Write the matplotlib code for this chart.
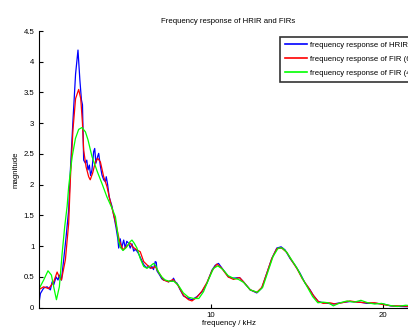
import numpy as np
import matplotlib
matplotlib.use('Agg')
from matplotlib import pyplot as plt

# 주파수 (kHz) / 크기 - 그림에서 읽은 값
freq_hrir = [0.0, 0.11, 0.3, 0.5, 0.69, 0.79, 0.88, 1.02, 1.13, 1.21, 1.33, 1.46, 1.6, 1.75, 1.85,
             2.0, 2.15, 2.29, 2.4, 2.49, 2.55, 2.62, 2.72, 2.8, 2.87, 2.95, 3.02, 3.1, 3.2, 3.26,
             3.33, 3.43, 3.49, 3.59, 3.68, 3.78, 3.88, 3.93, 4.01, 4.1, 4.26, 4.4, 4.5, 4.6, 4.65,
             4.74, 4.82, 4.94, 5.03, 5.12, 5.22, 5.32, 5.42, 5.52, 5.61, 5.71, 5.8, 5.9, 6.0, 6.1,
             6.19, 6.29, 6.39, 6.48, 6.58, 6.67, 6.77, 6.83, 6.87, 7.03, 7.15, 7.25, 7.4, 7.54, 7.65,
             7.74, 7.83, 7.93, 8.03, 8.22, 8.41, 8.7, 8.9, 9.19, 9.48, 9.77, 10.06, 10.25, 10.44,
             10.73, 11.02, 11.31, 11.66, 11.89, 12.28, 12.66, 12.95, 13.24, 13.53, 13.82, 14.07,
             14.3, 14.59, 14.88, 15.17, 15.46, 15.75, 15.94, 16.23, 16.52, 16.81, 17.1, 17.49,
             18.07, 18.65, 19.04, 19.6, 20.0, 20.4, 21.0, 22.05]
mag_hrir = [0.02, 0.23, 0.32, 0.34, 0.29, 0.42, 0.37, 0.5, 0.45, 0.53, 0.45, 0.78, 1.15, 1.59, 2.24,
            3.05, 3.8, 4.19, 3.7, 3.38, 3.3, 2.4, 2.35, 2.4, 2.24, 2.32, 2.15, 2.24, 2.54, 2.59,
            2.35, 2.46, 2.51, 2.3, 2.16, 2.08, 2.05, 2.13, 2.0, 1.8, 1.65, 1.45, 1.3, 1.12, 0.97,
            1.12, 0.97, 1.1, 0.97, 1.08, 1.05, 0.97, 1.04, 0.92, 0.95, 0.92, 0.88, 0.82, 0.76, 0.7,
            0.67, 0.65, 0.68, 0.64, 0.67, 0.62, 0.75, 0.74, 0.6, 0.53, 0.47, 0.45, 0.44, 0.42, 0.44,
            0.43, 0.48, 0.42, 0.4, 0.29, 0.19, 0.15, 0.13, 0.18, 0.26, 0.4, 0.61, 0.69, 0.72,
            0.61, 0.5, 0.48, 0.49, 0.42, 0.29, 0.24, 0.32, 0.56, 0.8, 0.97, 0.99,
            0.94, 0.8, 0.69, 0.56, 0.4, 0.29, 0.2, 0.1, 0.08, 0.07, 0.06, 0.08,
            0.1, 0.09, 0.07, 0.07, 0.06, 0.03, 0.02, 0.01]

freq_fir68 = [0.0, 0.3, 0.59, 0.88, 1.08, 1.2, 1.33, 1.56, 1.75, 1.85, 2.0, 2.15, 2.33, 2.45, 2.55,
              2.62, 2.76, 2.91, 3.0, 3.14, 3.3, 3.43, 3.59, 3.78, 3.97, 4.17, 4.46, 4.7, 4.9, 5.1,
              5.32, 5.5, 5.71, 5.9, 6.1, 6.39, 6.58, 6.77, 7.0, 7.25, 7.54, 7.8, 8.1, 8.41, 8.7,
              8.9, 9.19, 9.48, 9.77, 10.06, 10.35, 10.6, 11.0, 11.31, 11.66, 11.89, 12.28, 12.66,
              12.95, 13.24, 13.53, 13.82, 14.1, 14.4, 14.7, 15.0, 15.3, 15.6, 15.94, 16.23, 16.52,
              16.9, 17.2, 17.6, 18.07, 18.5, 19.0, 19.5, 20.0, 20.5, 21.0, 22.05]
mag_fir68 = [0.29, 0.34, 0.31, 0.42, 0.58, 0.5, 0.45, 0.78, 1.37, 2.1, 2.9, 3.4, 3.55, 3.4, 3.0,
             2.56, 2.29, 2.13, 2.08, 2.19, 2.37, 2.43, 2.37, 2.13, 1.97, 1.72, 1.4, 1.08, 0.94, 1.0,
             1.05, 0.98, 0.94, 0.91, 0.75, 0.67, 0.64, 0.67, 0.56, 0.45, 0.42, 0.46, 0.36, 0.2, 0.13,
             0.11, 0.17, 0.27, 0.41, 0.6, 0.71, 0.65, 0.5, 0.46, 0.49, 0.42, 0.29, 0.25,
             0.33, 0.56, 0.8, 0.96, 0.97, 0.9, 0.76, 0.63, 0.47, 0.35, 0.2, 0.1, 0.07,
             0.08, 0.06, 0.08, 0.11, 0.09, 0.08, 0.08, 0.05, 0.03, 0.03, 0.01]

freq_fir47 = [0.0, 0.3, 0.55, 0.75, 0.88, 1.04, 1.21, 1.37, 1.52, 1.66, 1.75, 1.95, 2.14, 2.33, 2.52,
              2.72, 2.87, 3.1, 3.4, 3.68, 3.97, 4.26, 4.46, 4.55, 4.65, 4.75, 4.9, 5.1, 5.3, 5.42,
              5.55, 5.71, 5.9, 6.1, 6.29, 6.5, 6.67, 6.8, 6.96, 7.15, 7.35, 7.6, 7.85, 8.1, 8.4,
              8.7, 9.0, 9.3, 9.57, 9.85, 10.15, 10.4, 10.7, 11.0, 11.3, 11.6, 11.9, 12.28, 12.7,
              13.0, 13.3, 13.6, 13.9, 14.15, 14.4, 14.7, 15.0, 15.3, 15.6, 15.9, 16.2, 16.5, 16.81,
              17.1, 17.5, 17.9, 18.3, 18.7, 19.1, 19.5, 19.9, 20.3, 20.8, 21.3, 22.05]
mag_fir47 = [0.29, 0.45, 0.6, 0.53, 0.34, 0.13, 0.34, 0.88, 1.32, 1.65, 1.97, 2.45, 2.75, 2.9, 2.93,
             2.86, 2.73, 2.46, 2.22, 2.02, 1.8, 1.62, 1.48, 1.3, 1.08, 0.98, 0.93, 0.98, 1.07, 1.1,
             1.05, 0.97, 0.8, 0.67, 0.64, 0.68, 0.72, 0.68, 0.58, 0.5, 0.45, 0.43, 0.43, 0.37, 0.24,
             0.17, 0.15, 0.15, 0.26, 0.45, 0.64, 0.68, 0.62, 0.52, 0.48, 0.46, 0.41, 0.29, 0.25,
             0.33, 0.58, 0.83, 0.97, 0.97, 0.9, 0.77, 0.64, 0.48, 0.33, 0.18, 0.08, 0.09, 0.08,
             0.03, 0.08, 0.11, 0.09, 0.12, 0.08, 0.06, 0.07, 0.04, 0.02, 0.04, 0.02]

labels = ['frequency response of HRIR',
          'frequency response of FIR (68 taps)',
          'frequency response of FIR (47 taps)']
y_ticks = [0, 0.5, 1, 1.5, 2, 2.5, 3, 3.5, 4, 4.5]
y_ticklabels = ['0', '0.5', '1', '1.5', '2', '2.5', '3', '3.5', '4', '4.5']
x_ticks = [10, 20]

fs = 5.6
plt.rcParams['font.family'] = ['Liberation Sans', 'DejaVu Sans']
plt.rcParams['font.size'] = fs

fig = plt.figure(figsize=(4.08, 3.36), dpi=100)
# 오른쪽은 원본처럼 그림 밖으로 잘림
ax = fig.add_axes([38.5 / 408, 1 - 307.7 / 336, (418.7 - 38.5) / 408, (307.7 - 31) / 336])

ax.plot(freq_hrir, mag_hrir, color='#0000ff', lw=0.9, label=labels[0])
ax.plot(freq_fir68, mag_fir68, color='#ff0000', lw=0.9, label=labels[1])
ax.plot(freq_fir47, mag_fir47, color='#00ff00', lw=0.9, label=labels[2])

ax.set_xlim(0, 22.05)
ax.set_ylim(0, 4.5)
ax.set_xticks(x_ticks)
ax.set_yticks(y_ticks)
ax.set_yticklabels(y_ticklabels)
ax.tick_params(direction='in', length=3, width=0.8, pad=3, labelsize=fs)
ax.spines['top'].set_visible(False)
ax.spines['right'].set_visible(False)
ax.spines['left'].set_linewidth(0.8)
ax.spines['bottom'].set_linewidth(0.8)

ax.set_title('Frequency response of HRIR and FIRs', fontsize=fs, pad=6)
ax.set_xlabel('frequency / kHz', fontsize=fs, labelpad=1)
ax.set_ylabel('magnitude', fontsize=fs, labelpad=3)

leg = ax.legend(loc='upper left', bbox_to_anchor=(280 / 408, 1 - 36.7 / 336),
                bbox_transform=fig.transFigure, fontsize=fs, frameon=True, fancybox=False,
                handlelength=2.8, handletextpad=0.4, labelspacing=0.8, borderpad=0.65,
                borderaxespad=0)
leg.get_frame().set_edgecolor('black')
leg.get_frame().set_linewidth(1.2)
for line in leg.get_lines():
    line.set_linewidth(1.2)

fig.savefig('out.png', dpi=100)
